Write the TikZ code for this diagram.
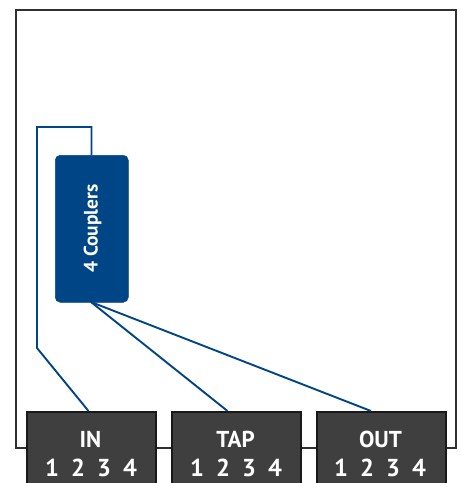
\documentclass[tikz,border=0pt]{standalone}
\usepackage{fontspec}
\setmainfont{PT Sans}
\definecolor{cblue}{HTML}{004586}
\definecolor{cdark}{HTML}{3F3F3F}
\definecolor{cframe}{HTML}{303030}
\newcommand{\portnums}{\makebox[26pt]{1}\makebox[26pt]{2}\makebox[26pt]{3}\makebox[26pt]{4}}
\tikzset{
  x=1pt,y=-1pt,
  frame/.style={draw=cframe,line width=1.9pt,fill=white},
  link/.style={draw=cblue,line width=1.9pt},
  portbox/.style={draw=black!90,line width=1.5pt,fill=cdark,minimum width=129pt,minimum height=73pt,inner sep=0pt,anchor=north west},
  boxtitle/.style={text=white,font=\fontsize{23}{23}\selectfont\bfseries,inner sep=0pt,anchor=base},
  boxnums/.style={text=white,font=\fontsize{24.5}{24.5}\selectfont\bfseries,inner sep=0pt,anchor=base},
  coupler/.style={fill=cblue,draw=cblue,rounded corners=5pt,minimum width=73pt,minimum height=147pt,inner sep=0pt,anchor=north west,line width=.5pt},
}
\begin{document}
\begin{tikzpicture}
\useasboundingbox (0,0) rectangle (461,483);
\draw[frame] (16,10) rectangle (456,448);
\node[coupler] (c) at (55,155) {};
\node[text=white,font=\fontsize{19.5}{19.5}\selectfont\bfseries,rotate=90,inner sep=0pt] (ct) at (92.5,228.5) {4 Couplers};
\begin{scope}
\clip (0,0) rectangle (461,483);
\node[portbox] (in) at (26,411) {};
\node[portbox] (tap) at (171,411) {};
\node[portbox] (out) at (316,411) {};
\end{scope}
\coordinate (a) at (91.5,127);
\coordinate (b) at (37,127);
\coordinate (d) at (37,348);
\coordinate (cb) at (91,302);
\coordinate (ct2) at (91.5,155);
\coordinate (ina) at (88.5,411);
\coordinate (tapa) at (227.5,411);
\coordinate (outa) at (371,411);
\draw[link] (ct2) -- (a) -- (b) -- (d) -- (ina);
\draw[link] (cb) -- (tapa);
\draw[link] (cb) -- (outa);
\node[boxtitle] (t1) at (90.5,447) {IN};
\node[boxtitle] (t2) at (235.5,447) {TAP};
\node[boxtitle] (t3) at (380.5,447) {OUT};
\node[boxnums] (n1) at (91,476) {\portnums};
\node[boxnums] (n2) at (236,476) {\portnums};
\node[boxnums] (n3) at (380,476) {\portnums};
\end{tikzpicture}
\end{document}
